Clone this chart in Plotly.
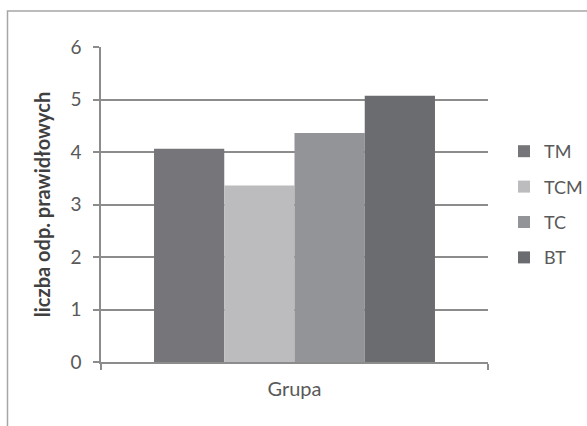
import plotly.graph_objects as go

categories = ["Grupa"]
series_names = ["TM", "TCM", "TC", "BT"]
series_values = [4.06, 3.36, 4.36, 5.07]
series_colors = ["#76767a", "#bcbcbe", "#939497", "#6b6c70"]
y_ticks = [0, 1, 2, 3, 4, 5, 6]

fig = go.Figure()
for i, (name, val, col) in enumerate(zip(series_names, series_values, series_colors)):
    fig.add_trace(go.Bar(
        x=categories, y=[val], name=name,
        marker=dict(color=col, line=dict(width=0)),
        legendgroup=name,
    ))

W, H = 587, 426
L, R, T, B = 101, 99, 47, 64
pw, ph = W - L - R, H - T - B

fig.update_layout(
    width=W, height=H,
    margin=dict(l=L, r=R, t=T, b=B, autoexpand=False),
    paper_bgcolor="white", plot_bgcolor="white",
    barmode="group", bargap=0.274, bargroupgap=0,
    font=dict(family="Lato, 'Open Sans', sans-serif", color="#595959"),
    showlegend=True,
    legend=dict(
        xref="container", yref="container",
        x=504 / W, y=1 - 133 / H,
        xanchor="left", yanchor="top",
        font=dict(size=18, color="#595959"),
        tracegroupgap=9, itemwidth=30,
        bgcolor="rgba(0,0,0,0)",
    ),
    xaxis=dict(
        type="category", range=[-0.5, 0.5],
        showline=True, linecolor="#8c8c8c", linewidth=1.5,
        ticks="outside", tickson="boundaries", ticklen=6, tickcolor="#8c8c8c", tickwidth=1.5,
        showticklabels=False, showgrid=False,
        title=dict(text="Grupa", font=dict(size=20, color="#595959"), standoff=19),
    ),
    yaxis=dict(
        range=[0, 6], tickvals=y_ticks,
        showline=True, linecolor="#8c8c8c", linewidth=1.5,
        ticks="outside", ticklen=6, tickcolor="#8c8c8c", tickwidth=1.5,
        showgrid=True, gridcolor="#8c8c8c", gridwidth=1.5,
        zeroline=False, ticklabelstandoff=8,
        tickfont=dict(size=19, color="#595959"),
        title=dict(text="liczba odp. prawidłowych",
                   font=dict(size=20, color="#404040", weight="bold"), standoff=14),
    ),
    shapes=[dict(
        type="rect", xref="paper", yref="paper", layer="below",
        x0=(7.5 - L) / pw, x1=1.4, y0=-0.4, y1=1 + (T - 11) / ph,
        line=dict(color="#a6a6a6", width=1.5), fillcolor="rgba(0,0,0,0)",
    )],
)

fig.write_html("out.html")
